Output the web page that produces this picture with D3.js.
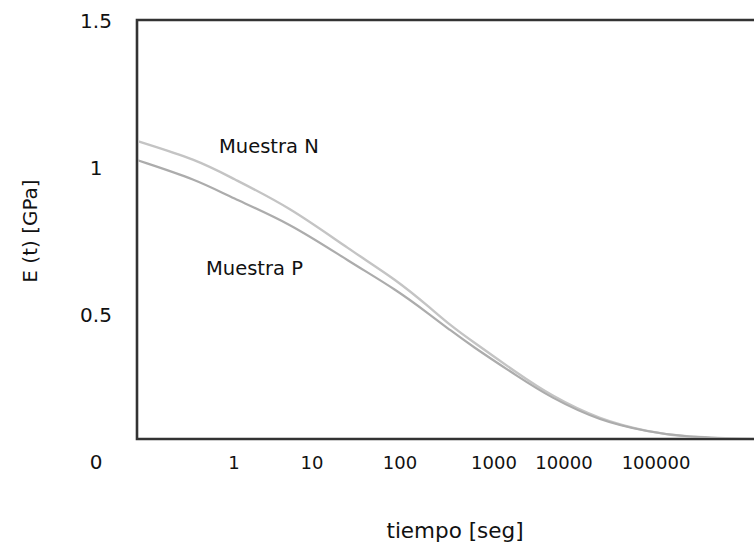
<!DOCTYPE html>
<html>
<head>
<meta charset="utf-8">
<script src="https://cdn.jsdelivr.net/npm/d3@7"></script>
<style>
  html, body { margin: 0; padding: 0; background: #fff; }
  svg { display: block; }
  text { font-family: "DejaVu Sans", sans-serif; fill: #111; }
</style>
</head>
<body>
<script>
// ---------- data ----------
const timeSeconds = [0.057, 0.34, 0.89, 5.2, 27, 92, 210, 340, 560, 2350, 6300, 24600, 86000, 196000, 1160000];
const muestraN    = [1.092, 1.027, 0.969, 0.867, 0.721, 0.619, 0.524, 0.466, 0.415, 0.296, 0.228, 0.143, 0.102, 0.085, 0.078];
const muestraP    = [1.027, 0.959, 0.901, 0.813, 0.680, 0.585, 0.500, 0.449, 0.398, 0.286, 0.221, 0.139, 0.102, 0.085, 0.078];
const seriesNames = ["Muestra N", "Muestra P"];
const xTickLabels = ["1", "10", "100", "1000", "10000", "100000"];
const yTickValues = [0, 0.5, 1, 1.5];
const yTickLabels = ["0", "0.5", "1", "1.5"];
const xTitle = "tiempo [seg]";
const yTitle = "E (t) [GPa]";

// ---------- layout ----------
const W = 754, H = 544;
const frame = { left: 137, top: 20, right: 760, bottom: 439 };

const svg = d3.select("body").append("svg").attr("width", W).attr("height", H);

// x: log10(time) mapped with the (irregular) decade spacing of the original axis
const xDecade = d3.scaleLinear()
  .domain(xTickLabels.map((d) => Math.log10(+d)))
  .range([234, 312, 400, 494, 564, 656]);
const x = (t) => xDecade(Math.log10(t));

const y = d3.scaleLinear().domain([0, 1.5]).range([462, 21]);

// frame (left, top, bottom)
svg.append("path")
  .attr("fill", "none").attr("stroke", "#333").attr("stroke-width", 2.6)
  .attr("d", `M${frame.right},${frame.top} H${frame.left} V${frame.bottom} H${frame.right}`);

// clip curves to the frame
svg.append("clipPath").attr("id", "clip")
  .append("rect")
  .attr("x", frame.left + 1).attr("y", frame.top + 1)
  .attr("width", frame.right - frame.left).attr("height", frame.bottom - frame.top - 2);

const line = d3.line()
  .x((d) => x(d[0]))
  .y((d) => y(d[1]))
  .curve(d3.curveBasis);

const series = [
  { name: seriesNames[0], values: muestraN, color: "#c4c4c4", width: 2.4 },
  { name: seriesNames[1], values: muestraP, color: "#acacac", width: 2.2 },
];

svg.append("g").attr("clip-path", "url(#clip)")
  .selectAll("path")
  .data(series)
  .join("path")
  .attr("fill", "none")
  .attr("stroke", (d) => d.color)
  .attr("stroke-width", (d) => d.width)
  .attr("stroke-linecap", "round")
  .attr("d", (d) => line(timeSeconds.map((t, i) => [t, d.values[i]])));

// series labels
svg.append("text").attr("x", 219).attr("y", 146).attr("dominant-baseline", "central")
  .attr("font-size", 19.5).text(seriesNames[0]);
svg.append("text").attr("x", 206).attr("y", 268).attr("dominant-baseline", "central")
  .attr("font-size", 19.5).text(seriesNames[1]);

// y tick labels
svg.append("g").selectAll("text")
  .data(yTickValues)
  .join("text")
  .attr("x", 96)
  .attr("y", (d) => y(d))
  .attr("text-anchor", "middle")
  .attr("dominant-baseline", "central")
  .attr("font-size", 20)
  .text((d, i) => yTickLabels[i]);

// x tick labels
svg.append("g").selectAll("text")
  .data(xTickLabels)
  .join("text")
  .attr("x", (d) => x(+d))
  .attr("y", y(0))
  .attr("text-anchor", "middle")
  .attr("dominant-baseline", "central")
  .attr("font-size", 18)
  .text((d) => d);

// axis titles
svg.append("text").attr("x", 455).attr("y", 530)
  .attr("text-anchor", "middle").attr("dominant-baseline", "central")
  .attr("font-size", 21.5).text(xTitle);
svg.append("text")
  .attr("transform", "translate(30,231) rotate(-90)")
  .attr("text-anchor", "middle").attr("dominant-baseline", "central")
  .attr("font-size", 20).text(yTitle);
</script>
</body>
</html>
